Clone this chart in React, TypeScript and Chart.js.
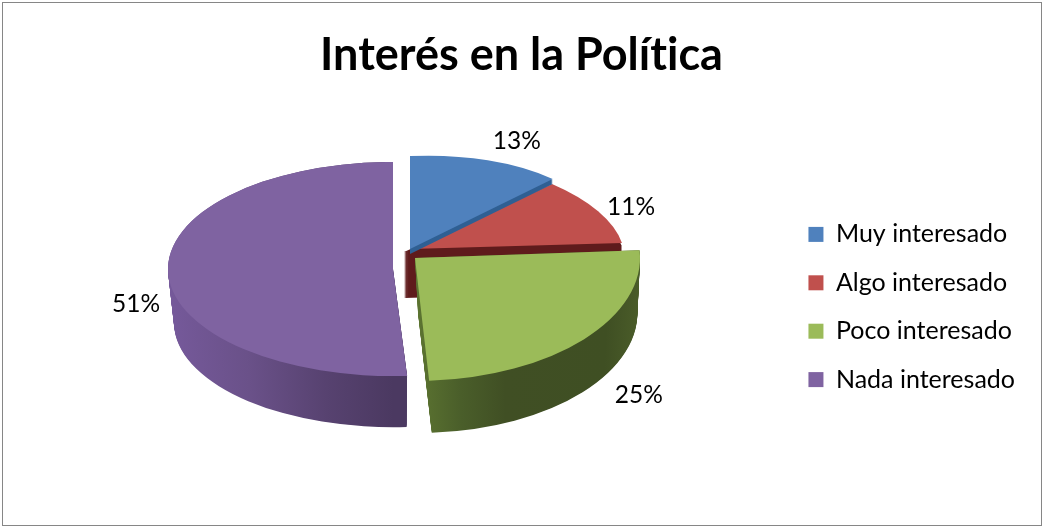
import React, { useEffect, useRef } from "react";
import { Chart, registerables, ArcElement } from "chart.js";

Chart.register(...registerables);

const categories = ["Muy interesado", "Algo interesado", "Poco interesado", "Nada interesado"];
const percentages = [13, 11, 25, 51];
const faceColors = ["#4f81bd", "#c0504d", "#9bbb59", "#7f63a1"];

const FONT = "Lato, Carlito, sans-serif";
const RADIUS = 225;

// Projection of each slice: where its tip lands and the affine squash (fake 3D).
const faces = [
  { tx: 410, ty: 249, a: 0.87, b: -0.039, c: 0, d: 0.413 },
  { tx: 410, ty: 249, a: 0.9495, b: 0, c: 0.089, d: 0.4215 },
  { tx: 415, ty: 258, a: 1.0, b: 0, c: 0, d: 0.547 },
  { tx: 393, ty: 269, a: 1.0, b: 0, c: 0, d: 0.476 },
];
const walls = [
  { tx: 410, ty: 250, a: 0.87, b: -0.039, c: 0, d: 0.413, depth: 4, shrink: 0, drift: 0, stops: [[0, "#2f5f93"], [1, "#2f5f93"]] },
  { tx: 404, ty: 252, a: 0.975, b: 0, c: 0.089, d: 0.4215, depth: 46, shrink: 0, drift: 0, stops: [[0, "#5f1b1c"], [1, "#5f1b1c"]] },
  { tx: 415, ty: 258, a: 1.0, b: 0, c: 0, d: 0.547, depth: 55, shrink: 0.025, drift: 3, stops: [[0, "#5c7431"], [0.2, "#4a5e2a"], [0.4, "#404f24"], [0.85, "#3f4f23"], [1, "#4a5c29"]] },
  { tx: 393, ty: 269, a: 1.0, b: 0, c: 0, d: 0.476, depth: 54, shrink: 0.027, drift: 0, stops: [[0, "#75599a"], [0.35, "#6a5189"], [0.7, "#574270"], [1, "#4b3961"]] },
];
const drawOrder = [3, 1, 0, 2];
const labelNudges = [
  [29, -19],
  [33, -4],
  [55, 56],
  [-32, 32],
];

const pie3d = {
  id: "pie3d",
  beforeDraw(chart: any) {
    chart.ctx.textRendering = "optimizeSpeed";
  },
  beforeDatasetDraw(chart: any) {
    const ctx = chart.ctx;
    const arcs = chart.getDatasetMeta(0).data;
    const paint = (el: any, t: any, xShift: number, yShift: number, scale: number, color: any) => {
      const clone = Object.create(el, {
        options: { value: { ...el.options, backgroundColor: color }, writable: true },
      });
      ctx.save();
      ctx.translate(t.tx + xShift, t.ty + yShift);
      ctx.transform(t.a * scale, t.b * scale, t.c * scale, t.d * scale, 0, 0);
      ctx.translate(-el.x, -el.y);
      ArcElement.prototype.draw.call(clone, ctx);
      ctx.restore();
    };
    for (const i of drawOrder) {
      const el = arcs[i];
      const w = walls[i];
      const leftSide = i === 3;
      const g = ctx.createLinearGradient(
        leftSide ? el.x - RADIUS : el.x,
        0,
        leftSide ? el.x : el.x + RADIUS,
        0
      );
      w.stops.forEach(([p, c]: any) => g.addColorStop(p, c));
      for (let d = w.depth; d >= 0; d--) {
        const t = d / w.depth;
        paint(el, w, w.drift * t, d, 1 - w.shrink * t, g);
      }
      paint(el, faces[i], 0, 0, 1, faceColors[i]);
    }
    return false;
  },
  afterDraw(chart: any) {
    const ctx = chart.ctx;
    const arcs = chart.getDatasetMeta(0).data;
    ctx.save();
    ctx.font = `24.5px ${FONT}`;
    ctx.fillStyle = "#000";
    ctx.textAlign = "center";
    ctx.textBaseline = "middle";
    arcs.forEach((el: any, i: number) => {
      const mid = (el.startAngle + el.endAngle) / 2;
      const f = faces[i];
      const px = RADIUS * Math.cos(mid);
      const py = RADIUS * Math.sin(mid);
      const x = f.tx + f.a * px + f.c * py + labelNudges[i][0];
      const y = f.ty + f.b * px + f.d * py + labelNudges[i][1];
      ctx.fillText(`${percentages[i]}%`, x, y);
    });
    ctx.restore();
  },
};

export default function App() {
  const ref = useRef<HTMLCanvasElement>(null);
  useEffect(() => {
    const chart = new Chart(ref.current!, {
      type: "pie",
      data: {
        labels: categories,
        datasets: [{ data: percentages, backgroundColor: faceColors, borderWidth: 0 }],
      },
      options: {
        animation: false,
        responsive: false,
        radius: RADIUS,
        layout: { padding: { top: 28, bottom: 15, left: 18, right: 18 } },
        plugins: {
          title: {
            display: true,
            text: "Interés en la Política",
            color: "#000",
            font: { family: FONT, size: 45, weight: "bold" },
            padding: { top: 0, bottom: 20 },
          },
          legend: {
            position: "right",
            fullSize: false,
            labels: {
              boxWidth: 15,
              boxHeight: 15,
              color: "#000",
              padding: 23.4,
              font: { family: FONT, size: 25 },
            },
          },
          tooltip: { enabled: false },
        },
      } as any,
      plugins: [pie3d as any],
    });
    return () => chart.destroy();
  }, []);
  return (
    <div style={{ position: "fixed", left: 0, top: 0, width: 1043, height: 527, background: "#fff" }}>
      <div
        style={{
          position: "absolute",
          left: 2,
          top: 2,
          width: 1038,
          height: 522,
          border: "1px solid #868686",
        }}
      />
      <canvas ref={ref} width={1043} height={527} style={{ position: "absolute", left: 0, top: 0 }} />
    </div>
  );
}
